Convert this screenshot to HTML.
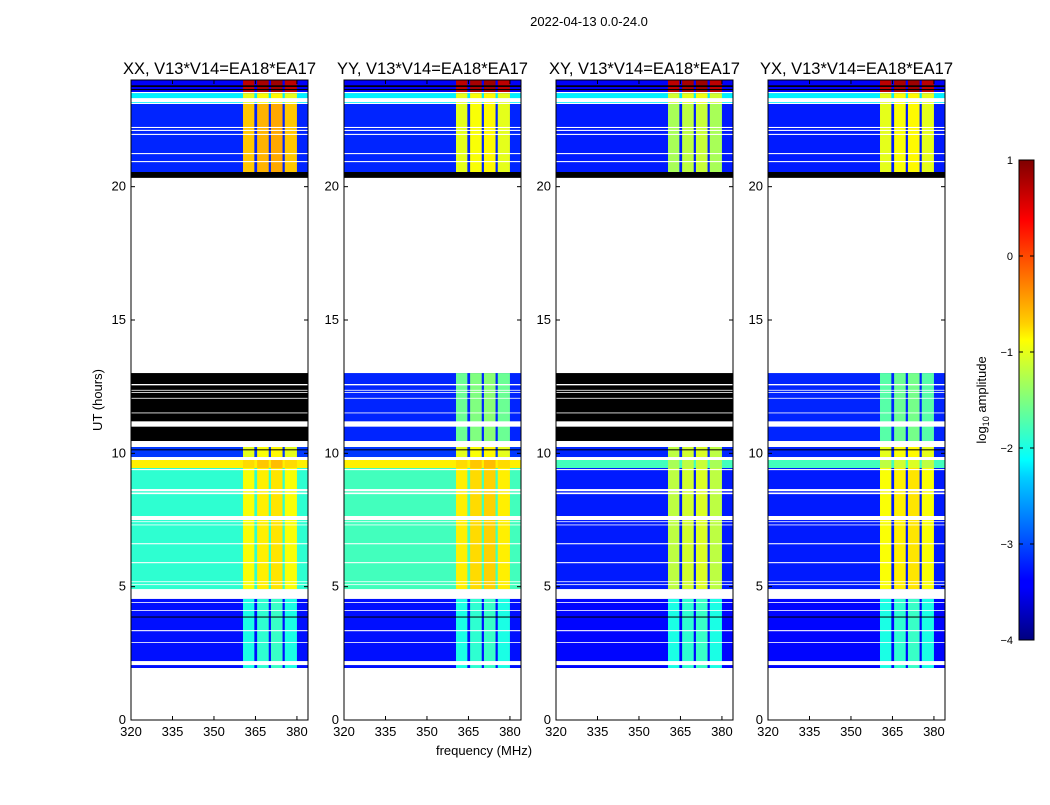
<!DOCTYPE html>
<html><head><meta charset="utf-8"><style>
body{margin:0;background:#fff;width:1050px;height:800px;overflow:hidden;font-family:"Liberation Sans",sans-serif}
svg text{font-family:"Liberation Sans","DejaVu Sans",sans-serif}
</style></head><body>
<svg id="fig" width="1050" height="800" xmlns="http://www.w3.org/2000/svg">
<text x="589" y="26" font-size="13" text-anchor="middle">2022-04-13 0.0-24.0</text>
<text x="484" y="755" font-size="13" text-anchor="middle">frequency (MHz)</text>
<text x="0" y="0" font-size="13" text-anchor="middle" transform="translate(102,400) rotate(-90)">UT (hours)</text>
<defs><linearGradient id="jet" x1="0" y1="1" x2="0" y2="0">
<stop offset="0" stop-color="#00007f"/><stop offset="0.11" stop-color="#0000ff"/><stop offset="0.125" stop-color="#0000ff"/><stop offset="0.34" stop-color="#00d0ff"/><stop offset="0.375" stop-color="#00ffff" /><stop offset="0.5" stop-color="#7fff7f"/><stop offset="0.625" stop-color="#ffff00"/><stop offset="0.66" stop-color="#ffd000"/><stop offset="0.875" stop-color="#ff0000"/><stop offset="1" stop-color="#7f0000"/></linearGradient></defs>
<rect x="1019" y="160" width="15" height="480" fill="url(#jet)" stroke="#000" stroke-width="1"/>
<text x="0" y="0" font-size="13" text-anchor="middle" transform="translate(986,400) rotate(-90)">log<tspan font-size="9" dy="3">10</tspan><tspan dy="-3"> amplitude</tspan></text>
<g id="cbticks"></g>
<g id="panels"></g>
</svg>
<script>
const NS="http://www.w3.org/2000/svg";
const panelTitles=["XX, V13*V14=EA18*EA17","YY, V13*V14=EA18*EA17","XY, V13*V14=EA18*EA17","YX, V13*V14=EA18*EA17"];
const panelLeft=[131,344,556,768];
const xTicks=[320,335,350,365,380];
const yTicks=[0,5,10,15,20];
const cbTicks=[1,0,-1,-2,-3,-4];
// time blocks (hours)
const blockStart=[1.95,4.91,9.45,9.86,10.46,20.33,20.55,23.10,23.51];
const blockEnd  =[4.54,9.45,9.75,10.24,13.01,20.55,23.10,23.51,24.0];
// background log amplitude per panel per block (null = flagged black)
const bgXX=[-3.3,-1.9,-0.8,-3.1,null,null,-3.2,-2.2,-3.4];
const bgYY=[-3.3,-1.8,-0.8,-3.1,-3.2,null,-3.2,-2.2,-3.4];
const bgXY=[-3.35,-3.25,-1.8,-3.2,null,null,-3.25,-2.2,-3.4];
const bgYX=[-3.35,-3.25,-1.8,-3.2,-3.2,null,-3.25,-2.2,-3.4];
// RFI level per panel per block
const rfiXX=[-2.0,-0.9,-0.7,-1.0,null,null,-0.6,-1.0,0.7];
const rfiYY=[-2.0,-0.8,-0.7,-1.0,-1.6,null,-1.0,-1.0,0.7];
const rfiXY=[-2.0,-1.2,-1.3,-1.2,null,null,-1.3,-1.1,0.7];
const rfiYX=[-2.0,-0.9,-1.2,-1.0,-1.7,null,-1.0,-1.0,0.7];
const bgs=[bgXX,bgYY,bgXY,bgYX], rfis=[rfiXX,rfiYY,rfiXY,rfiYX];
// RFI channel bands (MHz)
const rfiLo=[360.5,365.6,370.6,375.6];
const rfiHi=[364.6,369.8,374.8,380.0];
const rfiOffset=[0.0,0.1,0.15,0.0];
// flagged white rows (hours)
const whiteLo=[2.06,2.89,3.33,4.09,4.39,5.06,5.17,5.88,6.59,7.30,7.42,7.50,8.47,8.58,9.37,9.75,10.24,11.0,11.50,12.05,12.27,12.35,12.55,20.92,21.22,21.94,22.09,22.20,23.10,23.17,23.51];
const whiteHi=[2.21,2.92,3.37,4.12,4.42,5.09,5.20,5.92,6.63,7.33,7.45,7.65,8.53,8.66,9.41,9.86,10.46,11.2,11.53,12.08,12.30,12.38,12.60,20.96,21.26,21.98,22.13,22.24,23.14,23.32,23.55];
const blackLo=[3.86,10.13,23.62,23.74];
const blackHi=[3.88,10.15,23.66,23.80];
const W=177,TOP=80,BOT=720,FMIN=320,FMAX=384,HMAX=24;
function yS(h){return BOT-(h/HMAX)*(BOT-TOP);}
function jet(v){let t=Math.max(0,Math.min(1,(v+4)/5));const c=x=>Math.round(255*Math.max(0,Math.min(1,1.5-Math.abs(4*t-x))));return `rgb(${c(3)},${c(2)},${c(1)})`;}
function mk(tag,attrs,parent){const e=document.createElementNS(NS,tag);for(const k in attrs)e.setAttribute(k,attrs[k]);parent.appendChild(e);return e;}
const root=document.getElementById('panels');
panelTitles.forEach((title,p)=>{
  const L=panelLeft[p];const xS=f=>L+(f-FMIN)/(FMAX-FMIN)*W;
  const g=mk('g',{},root);
  
  
  blockStart.forEach((h0,i)=>{
    const y0=yS(blockEnd[i]),y1=yS(h0),bg=bgs[p][i],rf=rfis[p][i];
    const r=mk('rect',{x:L,y:y0,width:W,height:y1-y0,fill:bg===null?'#000':jet(bg)},g);
    
    
    if(bg!==null&&rf!==null){
      rfiLo.forEach((f0,k)=>{
        const c=mk('rect',{x:xS(f0),y:y0,width:xS(rfiHi[k])-xS(f0),height:y1-y0,fill:jet(rf+rfiOffset[k])},g);
        
        
      });
    }
  });
  whiteLo.forEach((h0,i)=>{const r=mk('rect',{x:L,y:yS(whiteHi[i]),width:W,height:yS(h0)-yS(whiteHi[i]),fill:'#fff'},g);
    });
  blackLo.forEach((h0,i)=>{const r=mk('rect',{x:L,y:yS(blackHi[i]),width:W,height:Math.max(1,yS(h0)-yS(blackHi[i])),fill:'#000'},g);
    });
  const fr=mk('rect',{x:L,y:TOP,width:W,height:BOT-TOP,fill:'none',stroke:'#000','stroke-width':1},g);
  
  const t=mk('text',{x:L+W/2,y:74,'font-size':16.5,'text-anchor':'middle'},g);t.textContent=title;
  
  xTicks.forEach(v=>{const x=xS(v);
    mk('line',{x1:x,y1:BOT,x2:x,y2:BOT-4,stroke:'#000'},g);mk('line',{x1:x,y1:TOP,x2:x,y2:TOP+4,stroke:'#000'},g);
    const tx=mk('text',{x:x,y:BOT+16,'font-size':13,'text-anchor':'middle'},g);tx.textContent=v;
    });
  yTicks.forEach(v=>{const y=yS(v);
    mk('line',{x1:L,y1:y,x2:L+4,y2:y,stroke:'#000'},g);mk('line',{x1:L+W,y1:y,x2:L+W-4,y2:y,stroke:'#000'},g);
    const ty=mk('text',{x:L-5,y:y+4,'font-size':13,'text-anchor':'end'},g);ty.textContent=v;
    });
});
const cb=document.getElementById('cbticks');
cbTicks.forEach(v=>{const y=160+(1-v)/5*480;
  mk('line',{x1:1019,y1:y,x2:1023,y2:y,stroke:'#000'},cb);mk('line',{x1:1034,y1:y,x2:1030,y2:y,stroke:'#000'},cb);
  const t=mk('text',{x:1013,y:y+4,'font-size':11,'text-anchor':'end'},cb);t.textContent=v<0?'\u2212'+(-v):v;
  });
</script>
</body></html>
